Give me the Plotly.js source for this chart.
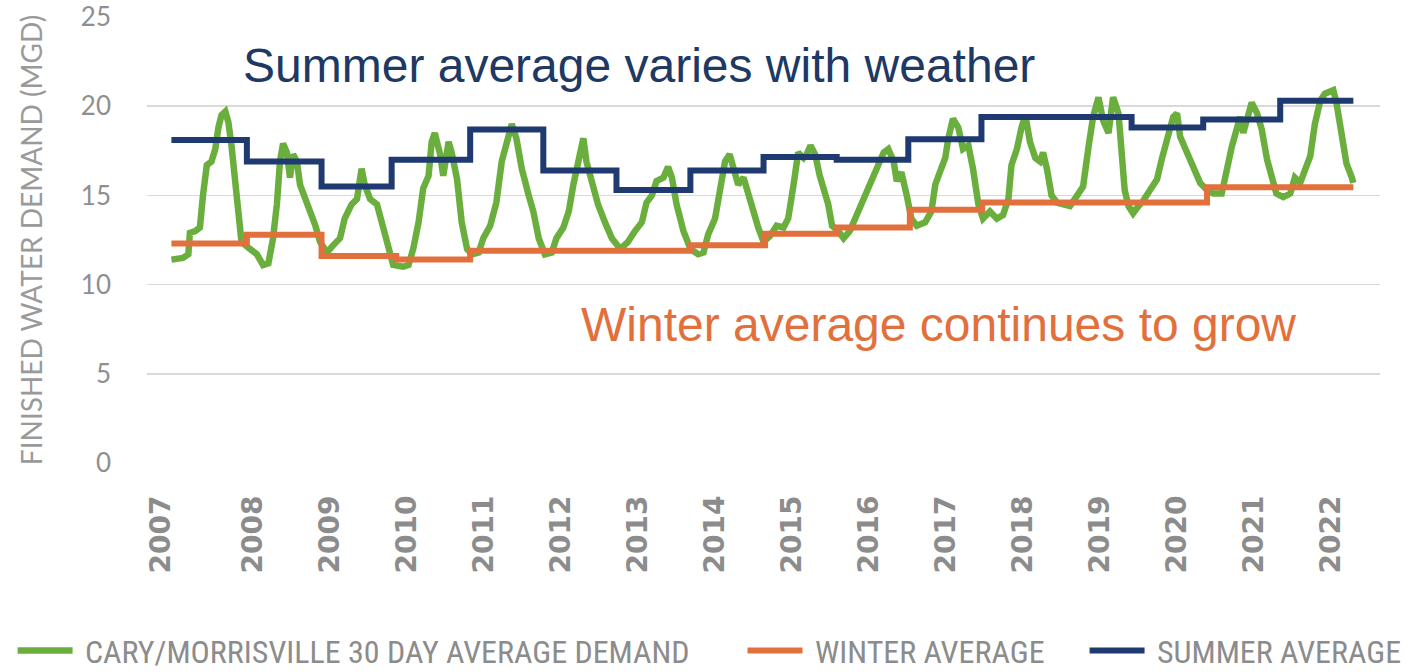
<!DOCTYPE html>
<html>
<head>
<meta charset="utf-8">
<script src="https://cdn.plot.ly/plotly-3.0.1.min.js"></script>
<style>
  html, body { margin: 0; padding: 0; background: #ffffff; }
  #chart { width: 1411px; height: 672px; }
</style>
</head>
<body>
<div id="chart"></div>
<script>
// x values are decimal positions on the year axis
const demandX = [
  2006.94, 2007.09, 2007.16, 2007.18, 2007.25, 2007.31, 2007.35, 2007.40, 2007.46, 2007.51,
  2007.55, 2007.59, 2007.64, 2007.68, 2007.72, 2007.77, 2007.81, 2007.85, 2007.96, 2008.05,
  2008.13, 2008.20, 2008.26, 2008.31, 2008.35, 2008.39, 2008.44, 2008.48, 2008.52, 2008.57,
  2008.61, 2008.68, 2008.74, 2008.81, 2008.87, 2008.96, 2009.04, 2009.13, 2009.19, 2009.28,
  2009.35, 2009.41, 2009.45, 2009.52, 2009.61, 2009.69, 2009.76, 2009.82, 2009.95, 2010.02,
  2010.08, 2010.15, 2010.21, 2010.28, 2010.32, 2010.36, 2010.43, 2010.47, 2010.54, 2010.58,
  2010.65, 2010.71, 2010.78, 2010.84, 2010.93, 2010.99, 2011.08, 2011.16, 2011.23, 2011.30,
  2011.36, 2011.42, 2011.49, 2011.58, 2011.64, 2011.71, 2011.79, 2011.88, 2011.94, 2012.03,
  2012.10, 2012.16, 2012.22, 2012.29, 2012.33, 2012.40, 2012.48, 2012.57, 2012.66, 2012.77,
  2012.87, 2012.96, 2013.05, 2013.11, 2013.18, 2013.24, 2013.33, 2013.39, 2013.44, 2013.50,
  2013.59, 2013.68, 2013.78, 2013.85, 2013.91, 2014.00, 2014.06, 2014.13, 2014.19, 2014.26,
  2014.30, 2014.37, 2014.43, 2014.50, 2014.56, 2014.63, 2014.71, 2014.80, 2014.89, 2014.95,
  2015.02, 2015.08, 2015.15, 2015.19, 2015.24, 2015.30, 2015.36, 2015.43, 2015.47, 2015.52,
  2015.60, 2015.67, 2015.75, 2015.84, 2015.93, 2016.01, 2016.10, 2016.19, 2016.25, 2016.32,
  2016.36, 2016.42, 2016.49, 2016.55, 2016.62, 2016.73, 2016.81, 2016.86, 2016.92, 2016.99,
  2017.03, 2017.09, 2017.16, 2017.22, 2017.29, 2017.35, 2017.42, 2017.48, 2017.57, 2017.66,
  2017.74, 2017.81, 2017.85, 2017.92, 2017.98, 2018.03, 2018.09, 2018.16, 2018.22, 2018.26,
  2018.31, 2018.37, 2018.44, 2018.52, 2018.61, 2018.68, 2018.74, 2018.78, 2018.85, 2018.91,
  2018.98, 2019.04, 2019.11, 2019.17, 2019.24, 2019.28, 2019.32, 2019.37, 2019.43, 2019.50,
  2019.56, 2019.65, 2019.74, 2019.80, 2019.89, 2019.95, 2020.00, 2020.04, 2020.10, 2020.17,
  2020.23, 2020.30, 2020.39, 2020.47, 2020.58, 2020.65, 2020.71, 2020.78, 2020.82, 2020.86,
  2020.91, 2020.97, 2021.04, 2021.10, 2021.17, 2021.23, 2021.29, 2021.38, 2021.47, 2021.53,
  2021.60, 2021.66, 2021.73, 2021.79, 2021.86, 2021.92, 2022.03, 2022.07, 2022.14, 2022.20,
  2022.27, 2022.29
];
const demandY = [
  11.4, 11.5, 11.7, 12.9, 13.0, 13.2, 15.0, 16.7, 16.9, 17.6,
  18.8, 19.5, 19.7, 19.1, 17.8, 15.8, 13.5, 12.4, 12.0, 11.7,
  11.1, 11.2, 12.6, 14.5, 16.9, 17.9, 17.4, 16.0, 17.3, 16.9,
  15.6, 14.8, 14.3, 13.3, 12.4, 11.8, 12.2, 12.6, 13.7, 14.5,
  14.8, 16.5, 15.6, 14.8, 14.5, 13.2, 11.8, 11.1, 11.0, 11.1,
  12.0, 13.5, 15.4, 16.1, 18.0, 18.5, 17.3, 16.1, 18.0, 17.4,
  15.9, 13.5, 12.0, 11.7, 11.8, 12.6, 13.3, 14.6, 16.9, 18.2,
  19.0, 18.2, 16.5, 15.0, 14.1, 12.6, 11.7, 11.8, 12.6, 13.2,
  14.1, 15.6, 16.9, 18.2, 16.9, 15.6, 14.5, 13.5, 12.6, 12.0,
  12.4, 13.0, 13.5, 14.6, 15.0, 15.8, 16.0, 16.6, 16.0, 14.5,
  13.0, 12.0, 11.7, 11.8, 12.8, 13.7, 15.4, 16.9, 17.3, 16.1,
  15.6, 16.0, 15.0, 14.1, 13.2, 12.4, 12.7, 13.3, 13.2, 13.7,
  15.6, 17.4, 17.1, 17.3, 17.8, 17.3, 16.1, 15.2, 14.5, 13.3,
  13.0, 12.6, 13.0, 13.9, 14.8, 15.6, 16.5, 17.4, 17.6, 16.9,
  15.8, 16.3, 15.0, 13.7, 13.3, 13.5, 14.1, 15.6, 16.3, 17.1,
  18.2, 19.3, 18.8, 17.6, 17.8, 16.5, 14.5, 13.7, 14.1, 13.7,
  13.9, 14.8, 16.7, 17.6, 18.8, 19.5, 18.0, 17.1, 16.9, 17.4,
  16.5, 15.0, 14.6, 14.5, 14.4, 14.85, 15.2, 15.5, 17.7, 19.4,
  20.5, 19.2, 18.5, 20.5, 19.6, 17.7, 15.3, 14.4, 14.0, 14.4,
  14.7, 15.3, 15.9, 17.0, 18.3, 19.4, 19.6, 18.3, 17.7, 17.0,
  16.2, 15.7, 15.3, 15.1, 15.1, 16.6, 17.7, 18.8, 19.4, 18.5,
  19.4, 20.2, 19.6, 18.7, 17.0, 15.9, 15.1, 14.9, 15.1, 16.0,
  15.7, 16.4, 17.2, 19.0, 20.3, 20.7, 20.9, 20.2, 18.3, 16.8,
  16.0, 15.7
];

// Seasonal averages: start of each period and its value; last entry closes the line
const winterX = [2006.94, 2007.92, 2008.89, 2009.86, 2010.82, 2013.68, 2014.65, 2015.58, 2016.53, 2017.47, 2020.39, 2022.29];
const winterY = [12.3, 12.8, 11.6, 11.4, 11.9, 12.2, 12.85, 13.2, 14.2, 14.6, 15.45, 15.45];

const summerX = [2006.94, 2007.92, 2008.89, 2009.80, 2010.82, 2011.77, 2012.72, 2013.68, 2014.63, 2015.58, 2016.51, 2017.46, 2019.41, 2020.34, 2021.34, 2022.29];
const summerY = [18.1, 16.9, 15.5, 17.0, 18.7, 16.4, 15.3, 16.4, 17.15, 17.0, 18.15, 19.4, 18.8, 19.25, 20.3, 20.3];

const tickVals = [2006.8, 2008, 2009, 2010, 2011, 2012, 2013, 2014, 2015, 2016, 2017, 2018, 2019, 2020, 2021, 2022];
const tickText = ['2007', '2008', '2009', '2010', '2011', '2012', '2013', '2014', '2015', '2016', '2017', '2018', '2019', '2020', '2021', '2022'];

const seriesNames = ['CARY/MORRISVILLE 30 DAY AVERAGE DEMAND', 'WINTER AVERAGE', 'SUMMER AVERAGE'];
const NB = '\u00a0';

const traces = [
  {
    x: demandX, y: demandY, type: 'scatter', mode: 'lines', name: NB + seriesNames[0], legend: 'legend',
    line: { color: '#6aaf3d', width: 6.5 }
  },
  {
    x: winterX, y: winterY, type: 'scatter', mode: 'lines', name: NB + seriesNames[1], legend: 'legend2',
    line: { color: '#e2703c', width: 6, shape: 'hv' }
  },
  {
    x: summerX, y: summerY, type: 'scatter', mode: 'lines', name: NB + seriesNames[2], legend: 'legend3',
    line: { color: '#1e3a70', width: 6, shape: 'hv' }
  }
];

const legendFont = { family: 'Roboto Condensed, Roboto, sans-serif', size: 32, color: '#8c8c8c' };
const makeLegend = (xPos) => ({
  orientation: 'h', x: xPos, xanchor: 'left', y: -0.421, yanchor: 'middle',
  font: legendFont, itemwidth: 55, bgcolor: 'rgba(0,0,0,0)'
});

const layout = {
  width: 1411, height: 672,
  margin: { l: 147, r: 31, t: 17, b: 209, autoexpand: false },
  paper_bgcolor: '#ffffff', plot_bgcolor: '#ffffff',
  showlegend: true,
  xaxis: {
    range: [2006.623, 2022.636],
    tickmode: 'array', tickvals: tickVals, ticktext: tickText,
    tickangle: -90,
    tickfont: { family: 'DejaVu Sans', size: 28, color: '#8c8c8c', weight: 'bold' },
    ticklabelstandoff: 26,
    showgrid: false, zeroline: false, showline: false, ticks: '', automargin: false
  },
  yaxis: {
    range: [0, 25], dtick: 5, tick0: 0,
    tickfont: { family: 'Lato', size: 26, color: '#8f8f8f' },
    ticklabelstandoff: 35,
    showgrid: true, gridcolor: '#d9d9d9', gridwidth: 1.5,
    zeroline: false, showline: false, ticks: '', automargin: false,
    title: { text: 'FINISHED WATER DEMAND (MGD)', font: { family: 'Lato', size: 28, color: '#9a9a9a' }, standoff: 30 }
  },
  legend: makeLegend(-0.109),
  legend2: makeLegend(0.483),
  legend3: makeLegend(0.7604),
  annotations: [
    {
      text: 'Summer average varies with weather', xref: 'paper', yref: 'y', x: 0.399, y: 22.3,
      showarrow: false, xanchor: 'center', yanchor: 'middle',
      font: { family: 'Liberation Sans, Arial, sans-serif', size: 48, color: '#203864' }
    },
    {
      text: 'Winter average continues to grow', xref: 'paper', yref: 'y', x: 0.642, y: 7.76,
      showarrow: false, xanchor: 'center', yanchor: 'middle',
      font: { family: 'Liberation Sans, Arial, sans-serif', size: 48, color: '#e2703c' }
    }
  ]
};

Plotly.newPlot('chart', traces, layout, { displayModeBar: false, staticPlot: true });
</script>
</body>
</html>
